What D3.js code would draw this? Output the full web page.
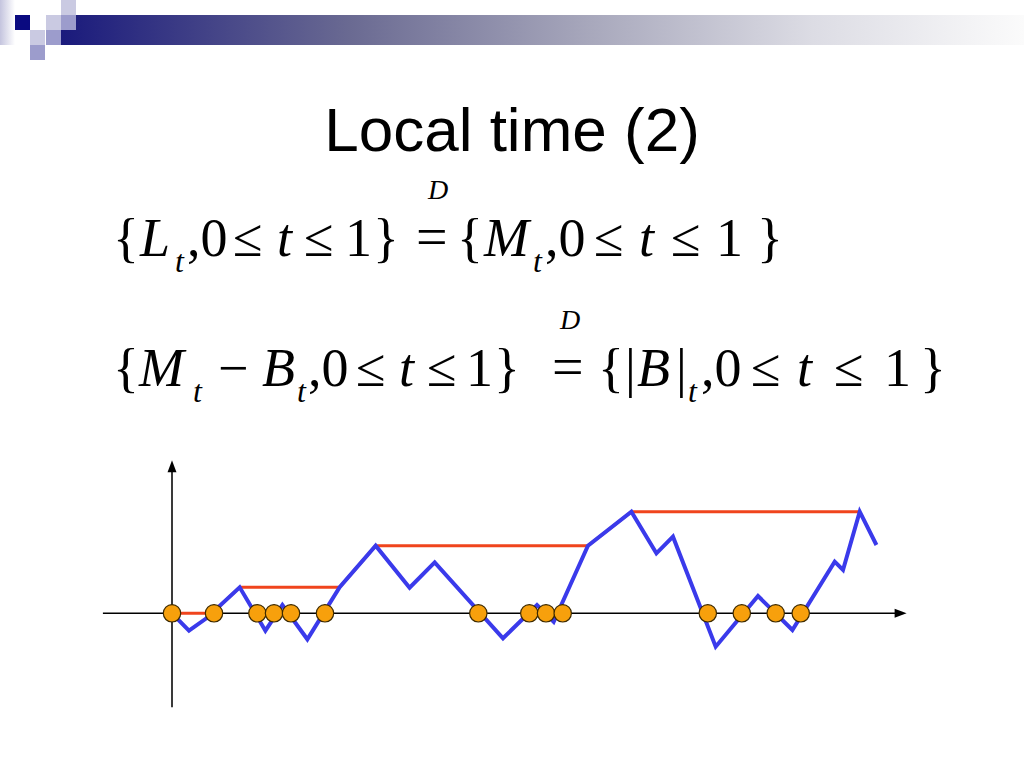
<!DOCTYPE html>
<html>
<head>
<meta charset="utf-8">
<script src="https://cdn.jsdelivr.net/npm/d3@7"></script>
<style>
html,body{margin:0;padding:0;background:#fff;}
svg{display:block;}
</style>
</head>
<body>
<svg id="chart" width="1024" height="768"></svg>
<script>
// ---- data ----
const titleText = "Local time (2)";
// Brownian-like path B_t : time (0..100) and value
const pathTime  = [0, 2.41, 4.88, 9.6, 13.25, 15.66, 19.2, 23.78, 28.89, 33.7, 37.26, 46.95, 51.77, 54.14, 59.0, 65.16, 68.71, 71.06, 77.12, 83.12, 88.0, 94.0, 95.18, 97.55, 99.92];
const pathValue = [0, -1.74, -0.5, 2.6, -1.74, 0.83, -2.6, 2.6, 6.76, 2.56, 5.1, -2.5, 0.83, -0.84, 6.76, 10.16, 6.0, 7.66, -3.34, 1.73, -1.67, 5.16, 4.33, 10.16, 6.83];
// zeros of B (local time at 0 increases here)
const zeroTimes = [0, 5.96, 12.11, 14.47, 16.88, 21.7, 43.45, 50.68, 53.05, 55.42, 76.0, 80.82, 85.63, 89.18];
const xAxisExtent = [-9.8, 104.2];
const yAxisExtent = [-9.4, 15.3];

const svg = d3.select("#chart");
const defs = svg.append("defs");

// ---- header decoration ----
const g1 = defs.append("linearGradient").attr("id","bar").attr("x1","0").attr("x2","1").attr("y1","0").attr("y2","0");
[[0,"#1a1a7c"],[0.3,"#6a6a92"],[0.55,"#a8a8bc"],[0.78,"#dcdce4"],[1,"#fbfbfb"]].forEach(s=>g1.append("stop").attr("offset",s[0]).attr("stop-color",s[1]));
const g2 = defs.append("linearGradient").attr("id","strip").attr("x1","0").attr("x2","1").attr("y1","0").attr("y2","0");
[[0,"#c4c4de"],[1,"#ffffff"]].forEach(s=>g2.append("stop").attr("offset",s[0]).attr("stop-color",s[1]));

const hdr = svg.append("g");
hdr.append("rect").attr("x",0).attr("y",0).attr("width",15).attr("height",45).attr("fill","url(#strip)");
hdr.append("rect").attr("x",61).attr("y",15).attr("width",963).attr("height",30).attr("fill","url(#bar)");
const sq = [
  [15,15,"#0a0a80"],
  [46,15,"#cacae2"],[61,0,"#cacae2"],[30,30,"#cacae2"],
  [61,15,"#9c9ccc"],[46,30,"#9c9ccc"],[30,45,"#9c9ccc"]
];
hdr.selectAll("rect.sq").data(sq).enter().append("rect").attr("class","sq")
  .attr("x",d=>d[0]).attr("y",d=>d[1]).attr("width",15).attr("height",15).attr("fill",d=>d[2]);

// ---- title ----
svg.append("text").attr("x",512).attr("y",151).attr("text-anchor","middle")
  .attr("font-family","'Liberation Sans', Arial, sans-serif").attr("font-size",62).attr("fill","#000")
  .text(titleText);

// ---- formulas ----
function formula(pieces, baseline){
  const g = svg.append("g").attr("font-family","'Liberation Serif','Times New Roman',serif").attr("fill","#000");
  pieces.forEach(p=>{
    const [txt, x, kind] = p;
    let size = 54, y = baseline, style = "normal";
    if (kind === "i") style = "italic";
    if (kind === "s") { style = "italic"; size = 32; y = baseline + 16; }
    if (kind === "d") { style = "italic"; size = 28; y = baseline - 57; }
    if (kind === "e") { size = 56; }
    g.append("text").attr("x",x).attr("y",y).attr("font-size",size).attr("font-style",style).text(txt);
  });
}
formula([
  ["{",113],["L",140,"i"],["t",175,"s"],[",0",187],["≤",233],["t",277,"i"],["≤",304],["1",345],["}",373],
  ["=",416,"e"],["D",428,"d"],
  ["{",457],["M",484,"i"],["t",533,"s"],[",0",545],["≤",594],["t",639,"i"],["≤",671],["1",716],["}",757]
], 256);
formula([
  ["{",113],["M",139,"i"],["t",193,"s"],["−",218],["B",262,"i"],["t",297,"s"],[",0",308],["≤",356],["t",399,"i"],["≤",427],["1",466],["}",494],
  ["=",552,"e"],["D",560,"d"],
  ["{",598],["|",625],["B",637,"i"],["|",676],["t",688,"s"],[",0",701],["≤",751],["t",797,"i"],["≤",834],["1",884],["}",920]
], 386);

// ---- chart ----
const x = d3.scaleLinear().domain([0,100]).range([172,877]);
const y = d3.scaleLinear().domain([-10,15]).range([713.3,463.3]);

// axes (no ticks)
svg.append("line").attr("x1",x(xAxisExtent[0])).attr("x2",x(xAxisExtent[1])-8).attr("y1",y(0)).attr("y2",y(0))
  .attr("stroke","#000").attr("stroke-width",1.6);
svg.append("path").attr("d",`M${x(xAxisExtent[1])},${y(0)} l-12,-4.5 l0,9 z`).attr("fill","#000");
svg.append("line").attr("x1",x(0)).attr("x2",x(0)).attr("y1",y(yAxisExtent[0])).attr("y2",y(yAxisExtent[1])+8)
  .attr("stroke","#3a3a3a").attr("stroke-width",2);
svg.append("path").attr("d",`M${x(0)},${y(yAxisExtent[1])} l-4.5,12 l9,0 z`).attr("fill","#000");

// running maximum M_t (up to last time it is attained)
const pts = pathTime.map((t,i)=>[t,pathValue[i]]);
let m = pts[0][1];
const maxPts = [[pts[0][0], m]];
let lastIdx = 0;
for (let i=1;i<pts.length;i++){
  const [x0,y0]=pts[i-1],[x1,y1]=pts[i];
  if (y1 > m){
    if (y0 < m){ const xc = x0 + (x1-x0)*(m-y0)/(y1-y0); maxPts.push([xc,m]); }
    maxPts.push([x1,y1]); m = y1; lastIdx = maxPts.length;
  } else if (y1 === m){
    maxPts.push([x1,m]); lastIdx = maxPts.length;
  } else {
    maxPts.push([x1,m]);
  }
}
const maxDrawn = maxPts.slice(0,lastIdx);
const line = d3.line().x(d=>x(d[0])).y(d=>y(d[1]));
svg.append("path").attr("d",line(maxDrawn)).attr("fill","none").attr("stroke","#f0441c").attr("stroke-width",3);
svg.append("path").attr("d",line(pts)).attr("fill","none").attr("stroke","#3a3aeb").attr("stroke-width",4).attr("stroke-linejoin","miter");

svg.selectAll("circle.z").data(zeroTimes).enter().append("circle").attr("class","z")
  .attr("cx",d=>x(d)).attr("cy",y(0)).attr("r",8.7)
  .attr("fill","#f7a00c").attr("stroke","#3d2a00").attr("stroke-width",1.2);
</script>
</body>
</html>
